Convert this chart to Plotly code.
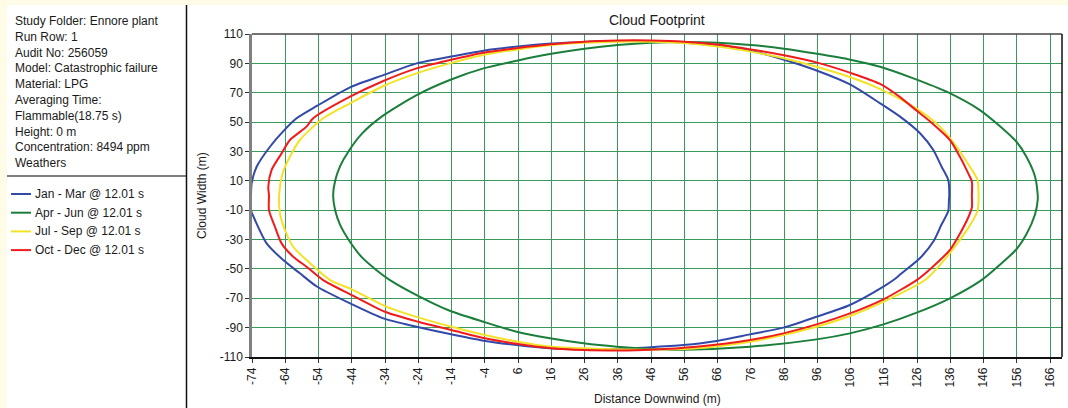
import plotly.graph_objects as go

# ---------------- data ----------------
series_names = ["Jan - Mar @ 12.01 s", "Apr - Jun @ 12.01 s",
                "Jul - Sep @ 12.01 s", "Oct - Dec @ 12.01 s"]
series_colors = ["#3349A8", "#1B7F3B", "#F2E228", "#F01C1C"]

jan_mar_x = [-74.3, -74.1, -72.6, -68.6, -64.5, -60.6, -54.5, -44.5, -34.5, -24.5, -14.5, -4.4,
             6, 16, 26, 36, 46, 56, 66, 76, 86, 96, 106, 114.9, 120.9, 126.9, 130.9, 133.4, 135.4, 135.7,
             135.6, 135.4, 133.4, 131, 127, 121, 118.9, 115.9, 105.8, 95.8, 85.8, 75.8, 65.8, 55.7, 45,
             35.7, 25.7, 15.6, 5.6, -4.4, -14.5, -24.5, -34.5, -44.5, -54.5, -59.6, -64.6, -69.6, -73.1,
             -74.3, -74.3]
jan_mar_y = [0, 8.3, 19.6, 33.2, 44, 52.6, 61, 73.7, 82, 90, 94.5, 98.6,
             101.5, 103.5, 104.6, 105.2, 105, 104, 102, 98.5, 92.5, 85, 75.5, 62.8, 53.7, 42.4, 31, 19.6, 10.6, 0,
             -3, -10.6, -19.6, -31, -42.4, -53.7, -57.6, -62.1, -74.6, -82.6, -90, -94.6, -99.1, -101.9, -103.5,
             -104.5, -104.8, -104.1, -101.9, -98.9, -94.4, -89.4, -83.7, -73.5, -62, -53, -44, -32.6, -16.7,
             -10, 0]

apr_jun_x = [-49.6, -49, -47.5, -45, -41, -35, -24.5, -14.5, -4.4, 6, 16, 26, 36, 46, 56, 66, 76, 86,
             96, 106, 114.9, 124.9, 134.9, 144.9, 149.9, 155.9, 158.9, 161.5, 162.3,
             162.3, 161.5, 158.9, 155.9, 149.9, 145.4, 135.9, 125.9, 115.9, 105.8, 95.8, 75.8, 56, 46,
             35.7, 25.7, 15.6, 5.6, -4.4, -14.5, -24.5, -32.5, -37, -41, -45, -47.5, -49, -49.6]
apr_jun_y = [0, 10, 20, 30, 42, 53.7, 68.4, 78.7, 86.6, 92, 96.5, 100, 102.5, 104, 104.5, 104, 102.5, 100,
             96.5, 92.5, 87.7, 79.8, 70.7, 58.2, 49.2, 36.6, 26.4, 12.8, 0,
             -3, -12.8, -26.4, -36.6, -49.2, -57.6, -70, -79.8, -87.8, -93.9, -98, -103, -105, -104.5,
             -103, -100.7, -97.3, -92.8, -86, -78.5, -67.8, -57.6, -50, -42, -30, -20, -10, 0]

jul_sep_x = [-65.8, -64.8, -62.6, -59.6, -52.6, -44.5, -34.5, -24.5, -14.5, -4.4, 6, 16, 26, 36, 46,
             56, 66, 76, 86, 96, 106, 114.9, 124.9, 132.9, 137.9, 141.9, 144.2, 144.5,
             144.5, 144.2, 142, 138, 133, 128.4, 115.9, 105.8, 95.8, 85.8, 75.8, 59.7, 46, 36, 26, 16, 6,
             -4, -14, -24, -34, -44, -50.5, -57.6, -61.6, -64.1, -65.6, -65.8]
jul_sep_y = [1.5, 15.1, 26.4, 37.8, 52.6, 62.8, 74.6, 83.2, 90, 95.7, 99.5, 102.5, 104, 104.8, 104.8,
             103.8, 101.5, 98, 93.5, 87.5, 80.5, 72.5, 60.5, 46.9, 33.2, 19.6, 10.6, 0,
             -3, -10.6, -20, -33, -47, -57.6, -72.4, -82.1, -89.4, -95, -99.6, -104.1, -105, -104.8, -104.1,
             -103, -99.6, -95, -89.4, -83, -75.3, -63.9, -57.6, -44, -34.9, -23.5, -12.1, 1.5]

oct_dec_x = [-68.9, -69.1, -68.1, -65.1, -62.6, -57.6, -55.6, -44.5, -34.5, -24.5, -14.5, -4.4, 6, 16,
             26, 36, 46, 56, 66, 76, 86, 96, 106, 114.9, 120.9, 125.5, 129.9, 135.9, 138.9, 141.4, 142.5, 142.5,
             142.5, 141.4, 138.9, 135.9, 130, 125.9, 115.9, 105.8, 95.8, 85.8, 75.8, 59.7, 46, 36, 26,
             16, 6, -4, -14, -24, -34, -44, -52.6, -57.6, -61.6, -65.1, -67.1, -68.9, -68.9]
oct_dec_y = [0, 6, 17.4, 28.7, 37.8, 46.9, 52.6, 67.3, 78, 86.6, 92.3, 97.3, 100.5, 103, 104.8, 105.6,
             105.6, 104.8, 102.8, 99.5, 95.5, 90.5, 83.5, 76, 67, 58.5, 50.5, 37.8, 26.4, 15.1, 9.4, 0,
             -8, -15, -26, -37, -50, -57.6, -70.7, -80.3, -87.8, -93.9, -98.4, -103, -105, -105.5, -105.3,
             -104.1, -101.2, -97.3, -91.6, -86, -79.2, -67.8, -57.6, -48.5, -41.7, -32.6, -21.3, -10, 0]

series_x = [jan_mar_x, apr_jun_x, jul_sep_x, oct_dec_x]
series_y = [jan_mar_y, apr_jun_y, jul_sep_y, oct_dec_y]

x_ticks = list(range(-74, 167, 10))
y_ticks = list(range(-110, 111, 20))

info_lines = ["Study Folder: Ennore plant", "Run Row: 1", "Audit No: 256059",
              "Model: Catastrophic failure", "Material: LPG", "Averaging Time:",
              "Flammable(18.75 s)", "Height: 0 m", "Concentration: 8494 ppm", "Weathers"]

# ---------------- layout geometry (pixels) ----------------
FW, FH = 1068, 408
L, R, T, B = 252, 6, 34, 51
PW, PH = FW - L - R, FH - T - B
FONT = "Liberation Sans, Arial, sans-serif"
TXT = "#1a1a1a"


def px(x):
    return (x - L) / PW


def py(y):
    return (FH - B - y) / PH


fig = go.Figure()
for name, color, xs, ys in zip(series_names, series_colors, series_x, series_y):
    fig.add_trace(go.Scatter(x=xs, y=ys, mode="lines", name=name,
                             line=dict(color=color, width=2, shape="spline", smoothing=0.7),
                             showlegend=False, hoverinfo="x+y+name"))

shapes = []
annotations = []
# white panels on cream background
shapes.append(dict(type="rect", xref="paper", yref="paper", x0=px(7), x1=px(FW + 2),
                   y0=py(5), y1=py(FH + 2), fillcolor="white", line=dict(width=0), layer="below"))
shapes.append(dict(type="line", xref="paper", yref="paper", x0=px(7), x1=px(186),
                   y0=py(176), y1=py(176), line=dict(color="#555555", width=1.5)))
shapes.append(dict(type="line", xref="paper", yref="paper", x0=px(186.5), x1=px(186.5),
                   y0=py(5), y1=py(FH + 2), line=dict(color="#111111", width=1.5)))
# plot frame (top and right)
shapes.append(dict(type="line", xref="paper", yref="paper", x0=0, x1=1, y0=1, y1=1,
                   line=dict(color="#444444", width=1.5)))
shapes.append(dict(type="line", xref="paper", yref="paper", x0=1, x1=1, y0=0, y1=1,
                   line=dict(color="#111111", width=1.5)))

for i, line in enumerate(info_lines):
    annotations.append(dict(text=line, xref="paper", yref="paper", x=px(13), y=py(21 + i * 15.8),
                            xanchor="left", yanchor="middle", showarrow=False,
                            font=dict(family=FONT, size=12, color=TXT)))

for i, (name, color) in enumerate(zip(series_names, series_colors)):
    yc = 194 + i * 18.7
    shapes.append(dict(type="line", xref="paper", yref="paper", x0=px(11), x1=px(31),
                       y0=py(yc), y1=py(yc), line=dict(color=color, width=2)))
    annotations.append(dict(text=name, xref="paper", yref="paper", x=px(33), y=py(yc),
                            xanchor="left", yanchor="middle", showarrow=False,
                            font=dict(family=FONT, size=12, color=TXT)))

annotations.append(dict(text="Cloud Footprint", xref="paper", yref="paper", x=0.5, y=py(20),
                        xanchor="center", yanchor="middle", showarrow=False,
                        font=dict(family=FONT, size=14, color=TXT)))
annotations.append(dict(text="Cloud Width (m)", xref="paper", yref="paper", x=px(202), y=py(196),
                        xanchor="center", yanchor="middle", showarrow=False, textangle=-90,
                        font=dict(family=FONT, size=12, color=TXT)))
annotations.append(dict(text="Distance Downwind (m)", xref="paper", yref="paper", x=0.5, y=py(399),
                        xanchor="center", yanchor="middle", showarrow=False,
                        font=dict(family=FONT, size=12, color=TXT)))

GRID = "#3a9a5c"
fig.update_layout(
    width=FW, height=FH,
    margin=dict(l=L, r=R, t=T, b=B, pad=0, autoexpand=False),
    paper_bgcolor="#FEFCE6",
    plot_bgcolor="white",
    shapes=shapes,
    annotations=annotations,
    font=dict(family=FONT, size=12, color=TXT),
    xaxis=dict(range=[-74, 169.6], tickmode="array", tickvals=x_ticks,
               ticktext=[str(v) for v in x_ticks], tickangle=-90, automargin=False,
               showgrid=True, gridcolor=GRID, gridwidth=1, zeroline=False,
               showline=True, linecolor="#111111", linewidth=1.5,
               ticks="outside", ticklen=4, tickcolor="#333333",
               tickfont=dict(family=FONT, size=12, color=TXT), fixedrange=True),
    yaxis=dict(range=[-110, 110], tickmode="array", tickvals=y_ticks,
               ticktext=[str(v) for v in y_ticks], automargin=False,
               showgrid=True, gridcolor=GRID, gridwidth=1, zeroline=False,
               showline=True, linecolor="#808080", linewidth=2.5,
               ticks="outside", ticklen=4, tickcolor="#333333",
               tickfont=dict(family=FONT, size=12, color=TXT), fixedrange=True),
)

fig.write_html("out.html", config={"displayModeBar": False},
               post_script="document.body.style.margin='0';document.body.style.overflow='hidden';")
